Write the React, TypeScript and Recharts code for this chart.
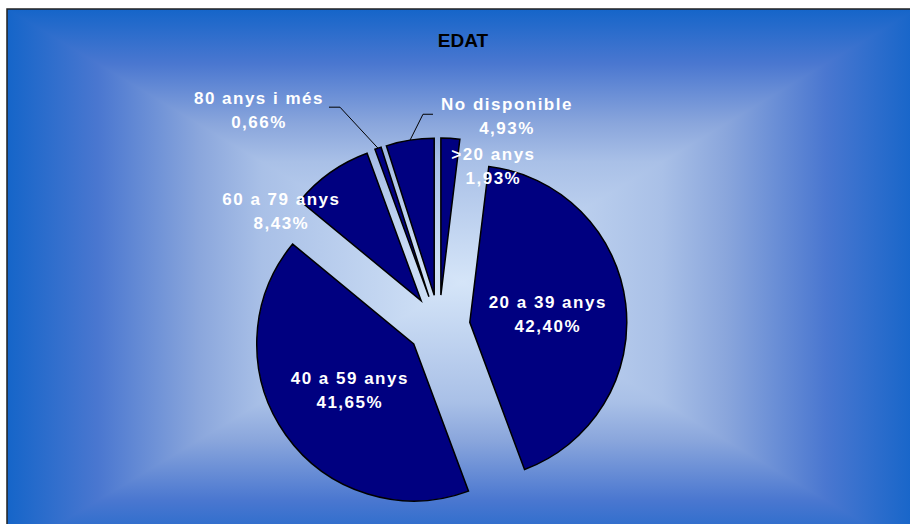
import React from "react";
import { PieChart, Pie, Sector } from "recharts";

// EDAT distribution, in %, clockwise from 12 o'clock
const categories = [">20 anys", "20 a 39 anys", "40 a 59 anys", "60 a 79 anys", "80 anys i més", "No disponible"];
const percents = [1.93, 42.4, 41.65, 8.43, 0.66, 4.93];

// outside labels: offset from the slice's outer edge point (null = label inside the slice)
const labelNudge: ([number, number] | null)[] = [[43, 27], null, null, [-49, 38], [-119, -39], [97, -25]];
// leader lines for moved labels: elbow and end, relative to the outer edge point
const leaders: (number[] | null)[] = [null, null, null, null, [-38, -41, -49, -41], [13, -26, 23, -26]];

const W = 910;
const H = 524;
const CX = 439;
const CY = 326;
const R = 157;
const EXPLODE = 31;
const RAD = Math.PI / 180;

// plot area for the background gradient
const AX0 = 7;
const AY0 = 9;
const AX1 = 917;
const AY1 = 555;
const GX = (AX0 + AX1) / 2;
const GY = (AY0 + AY1) / 2;

const FONT = "'Liberation Sans', Arial, sans-serif";

const data = categories.map((name, i) => ({ name, value: percents[i] }));

const fmt = (v: number) => v.toFixed(2).replace(".", ",") + "%";

function ExplodedSector(props: any) {
  const { cx, cy, midAngle } = props;
  const dx = EXPLODE * Math.cos(-midAngle * RAD);
  const dy = EXPLODE * Math.sin(-midAngle * RAD);
  return <Sector {...props} cx={cx + dx} cy={cy + dy} />;
}

function renderLabel(props: any) {
  const { cx, cy, midAngle, outerRadius } = props;
  const name = props.name ?? props.payload?.name;
  const i = categories.indexOf(name);
  const cos = Math.cos(-midAngle * RAD);
  const sin = Math.sin(-midAngle * RAD);
  const nudge = labelNudge[i];
  const ox = cx + (EXPLODE + outerRadius) * cos;
  const oy = cy + (EXPLODE + outerRadius) * sin;
  let lx: number;
  let ly: number;
  if (!nudge) {
    const rr = EXPLODE + outerRadius * 0.5;
    lx = cx + rr * cos;
    ly = cy + rr * sin;
  } else {
    lx = ox + nudge[0];
    ly = oy + nudge[1];
  }
  const ld = leaders[i];
  return (
    <g key={"lbl-" + i}>
      {ld && (
        <polyline
          points={`${ox},${oy} ${ox + ld[0]},${oy + ld[1]} ${ox + ld[2]},${oy + ld[3]}`}
          fill="none"
          stroke="#000"
          strokeWidth={1}
        />
      )}
      <text
        x={lx}
        textAnchor="middle"
        fill="#fff"
        fontFamily={FONT}
        fontWeight="bold"
        fontSize={17}
        letterSpacing={1.5}
      >
        <tspan x={lx} y={ly - 5.5}>{name}</tspan>
        <tspan x={lx} y={ly + 18.5}>{fmt(percents[i])}</tspan>
      </text>
    </g>
  );
}

function Background() {
  const stops = (
    <>
      <stop offset="0" stopColor="#1565c9" />
      <stop offset="0.2" stopColor="#4a77d0" />
      <stop offset="0.42" stopColor="#8aa6dc" />
      <stop offset="0.56" stopColor="#a9c0e7" />
      <stop offset="1" stopColor="#d5e5f8" />
    </>
  );
  return (
    <svg width={W} height={H} style={{ position: "absolute", left: 0, top: 0 }}>
      <defs>
        <linearGradient id="gTop" gradientUnits="userSpaceOnUse" x1={0} y1={AY0} x2={0} y2={GY}>{stops}</linearGradient>
        <linearGradient id="gBot" gradientUnits="userSpaceOnUse" x1={0} y1={AY1} x2={0} y2={GY}>{stops}</linearGradient>
        <linearGradient id="gLeft" gradientUnits="userSpaceOnUse" x1={AX0} y1={0} x2={GX} y2={0}>{stops}</linearGradient>
        <linearGradient id="gRight" gradientUnits="userSpaceOnUse" x1={AX1} y1={0} x2={GX} y2={0}>{stops}</linearGradient>
      </defs>
      <rect x={0} y={0} width={W} height={H} fill="#fff" />
      <g shapeRendering="crispEdges">
        <polygon points={`${AX0},${AY0} ${AX1},${AY0} ${GX},${GY}`} fill="url(#gTop)" />
        <polygon points={`${AX0},${AY1} ${AX1},${AY1} ${GX},${GY}`} fill="url(#gBot)" />
        <polygon points={`${AX0},${AY0} ${AX0},${AY1} ${GX},${GY}`} fill="url(#gLeft)" />
        <polygon points={`${AX1},${AY0} ${AX1},${AY1} ${GX},${GY}`} fill="url(#gRight)" />
      </g>
      <rect x={AX0} y={AY0} width={AX1 - AX0} height={AY1 - AY0} fill="none" stroke="#222" strokeWidth={1.5} />
      <text x={463} y={47} textAnchor="middle" fontFamily={FONT} fontWeight="bold" fontSize={19} fill="#000">
        EDAT
      </text>
    </svg>
  );
}

export default function App() {
  return (
    <div style={{ position: "absolute", left: 0, top: 0, width: W, height: H, overflow: "hidden" }}>
      <Background />
      <div style={{ position: "absolute", left: 0, top: 0 }}>
        <PieChart width={W} height={H} margin={{ top: 0, right: 0, bottom: 0, left: 0 }}>
          <Pie
            data={data}
            dataKey="value"
            nameKey="name"
            cx={CX}
            cy={CY}
            outerRadius={R}
            startAngle={90}
            endAngle={-270}
            fill="#000080"
            stroke="#000"
            strokeWidth={1.5}
            labelLine={false}
            label={renderLabel}
            shape={ExplodedSector}
            isAnimationActive={false}
          />
        </PieChart>
      </div>
    </div>
  );
}
